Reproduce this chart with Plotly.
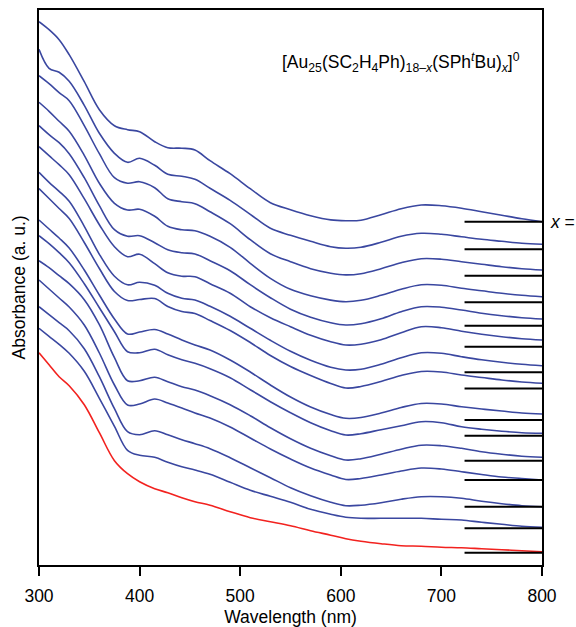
import plotly.graph_objects as go

wavelength = [300, 310, 320, 330, 345, 360, 375, 388, 400, 415, 428, 442, 455, 470, 490,
              510, 530, 550, 570, 590, 605, 620, 640, 660, 680, 700, 720, 740, 760, 780, 800]

# absorbance, normalised to 1 at 300 nm (x 200), top spectrum first
spec_01 = [200, 192, 182, 167, 140, 112, 96, 92, 90, 80, 74, 73.5, 71.7, 61, 48,
           33, 19, 12, 6, 1.8, 1, 1.5, 7, 13, 16.7, 16, 13.5, 10, 6.5, 3, 0]
spec_02 = [200, 181, 177, 168, 144, 116, 96, 87, 91, 84, 75, 73, 70, 61, 49,
           35, 21, 14, 8, 2.6, 1, 2, 7, 13, 16, 15, 12.5, 10, 8, 6, 5]
spec_03 = [200, 192, 183, 175, 150, 122, 98, 92.5, 94, 88, 77, 74, 72, 64, 52,
           36, 22, 14, 7, 2.5, 0.8, 2, 7, 13, 17, 16.5, 14, 11.5, 9, 7, 5.7]
spec_04 = [200, 191, 181, 171, 147, 119, 99, 92.3, 93, 86, 76, 72.5, 71.6, 66, 55,
           39, 24, 13, 6.5, 2.2, 0.6, 2, 7, 13, 17.5, 17, 14, 11.5, 9, 7, 5.6]
spec_05 = [200, 191, 183, 172, 148, 120, 96, 89.5, 90, 83, 76, 73, 71.7, 65, 55,
           41, 28, 16.5, 8.5, 3, 0.7, 2, 7, 14, 19, 18.5, 15.7, 12.5, 10, 8, 6.7]
spec_06 = [200, 191, 182, 172, 148, 122, 100, 90, 92.5, 83, 74, 70.5, 70, 63, 53.5,
           40, 29, 20, 11.5, 5, 1.7, 2.5, 7, 14, 20, 19, 15.5, 12.5, 10, 8, 6.7]
spec_07 = [200, 190, 181, 171, 146, 118, 96, 87.5, 90, 87, 79, 74, 72.3, 66, 56,
           44, 32, 21, 12, 5, 2.3, 3, 8, 14.5, 19.5, 19, 15.6, 12.5, 10, 8, 6.6]
spec_08 = [200, 190, 180, 170, 146, 120, 97, 88, 89, 90, 82, 77, 75, 68, 58,
           46, 33, 22, 13, 5, 0.5, 2, 7, 13, 17, 16.5, 13.5, 11, 8.5, 6.5, 5.2]
spec_09 = [200, 191, 182, 172, 150, 125, 101, 86, 88, 90.5, 86, 80, 75, 70, 60,
           48, 35, 23, 13, 5.5, 1.7, 2.5, 7, 12.5, 16.5, 16, 13.3, 11, 9, 7, 6]
spec_10 = [200, 192, 183, 173, 152, 128, 104, 84, 83, 86.5, 81, 76, 72.4, 67, 58,
           46, 34, 23, 13, 5, 0.7, 2, 6, 10, 14, 13, 9, 6.5, 4.5, 3, 2.4]
spec_11 = [200, 193, 185, 177, 161, 136, 103, 80, 80, 83.5, 79, 74, 70.7, 65, 56,
           45, 33, 22, 12.5, 5, 0.7, 2, 6.5, 11.5, 15.5, 15, 12.4, 9, 6.5, 4.5, 3.4]
spec_12 = [200, 191, 182, 173, 155, 127, 95, 75, 76, 81, 77, 72, 67, 62, 53,
           42, 31, 21, 12, 5, 0.5, 1.5, 5, 9, 12, 11, 8.3, 5.5, 3, 1.5, 0]
spec_13 = [200, 192, 184, 176, 158, 130, 98, 75, 72, 76, 72, 67, 63, 58, 49,
           39, 29, 19, 11, 4.5, 1, 1.5, 4, 7.5, 10, 10, 8.4, 5.5, 3, 1, 0]
spec_14 = [200, 192, 184, 175, 157, 130, 102, 78, 73, 71, 66, 61.5, 58.3, 54, 46,
           38, 32, 26, 19, 14, 11, 10, 10, 10, 10, 9, 8.3, 6, 4, 2, 1]
spec_15 = [200, 188, 176, 167, 148, 120, 92, 79, 71, 64, 60, 55, 51, 47.5, 41,
           35, 31, 27, 22, 17.5, 14, 11.5, 9, 7, 6.5, 5.5, 5, 4, 3, 2, 1]

spectra = [spec_01, spec_02, spec_03, spec_04, spec_05, spec_06, spec_07, spec_08,
           spec_09, spec_10, spec_11, spec_12, spec_13, spec_14, spec_15]

# vertical offset of each spectrum (same units as the axis)
offsets = [1.7165, 1.5785, 1.4465, 1.3135, 1.1965, 1.0915, 0.9635, 0.8825,
           0.725, 0.6465, 0.5215, 0.425, 0.2915, 0.1835, 0.0615]

BLUE = "#3a47a0"
RED = "#f2221f"
FONT = "Liberation Sans, Arial, sans-serif"
FS = 17.5

fig = go.Figure()

for i, (spec, off) in enumerate(zip(spectra, offsets)):
    colour = RED if i == len(spectra) - 1 else BLUE
    fig.add_trace(go.Scatter(
        x=wavelength, y=[off + v / 200 for v in spec],
        mode="lines", line=dict(color=colour, width=1.6, shape="spline", smoothing=1.0),
        showlegend=False, hoverinfo="skip"))

# short black baseline marks at the right edge
for off in offsets:
    fig.add_trace(go.Scatter(
        x=[723, 800], y=[off, off], mode="lines",
        line=dict(color="black", width=2), showlegend=False, hoverinfo="skip"))

fig.add_annotation(
    x=0.961, y=0.906, xref="paper", yref="paper", xanchor="right", yanchor="middle",
    text="[Au<sub>25</sub>(SC<sub>2</sub>H<sub>4</sub>Ph)<sub>18–<i>x</i></sub>"
         "(SPh<sup><i>t</i></sup>Bu)<sub><i>x</i></sub>]<sup>0</sup>",
    showarrow=False, font=dict(family=FONT, size=FS, color="black"))

fig.add_annotation(
    x=1.012, y=offsets[0], xref="paper", yref="y", xanchor="left", yanchor="middle",
    text="<i>x</i> =", showarrow=False, font=dict(family=FONT, size=FS, color="black"))

fig.add_annotation(
    x=-0.04, y=0.5, xref="paper", yref="paper", xanchor="center", yanchor="middle",
    text="Absorbance (a. u.)", textangle=-90, showarrow=False,
    font=dict(family=FONT, size=FS, color="black"))

fig.update_xaxes(
    range=[300, 800], tickvals=[300, 400, 500, 600, 700, 800],
    ticks="outside", ticklen=9, tickwidth=1.5, tickcolor="black", ticklabelstandoff=5,
    showline=True, linecolor="black", linewidth=1.8, mirror=True,
    showgrid=False, zeroline=False,
    tickfont=dict(family=FONT, size=FS, color="black"),
    title=dict(text="Wavelength (nm)", font=dict(family=FONT, size=FS, color="black"),
               standoff=6))
fig.update_yaxes(
    range=[0, 2.775], showticklabels=False, ticks="",
    showline=True, linecolor="black", linewidth=1.8, mirror=True,
    showgrid=False, zeroline=False)

fig.update_layout(
    width=576, height=627,
    margin=dict(l=39, r=34, t=10, b=62, autoexpand=False),
    paper_bgcolor="white", plot_bgcolor="white")

# the page's default body margin would push the figure 8px down and right
fig.write_html("out.html", config={"displayModeBar": False},
               post_script="document.body.style.margin = '0';")
